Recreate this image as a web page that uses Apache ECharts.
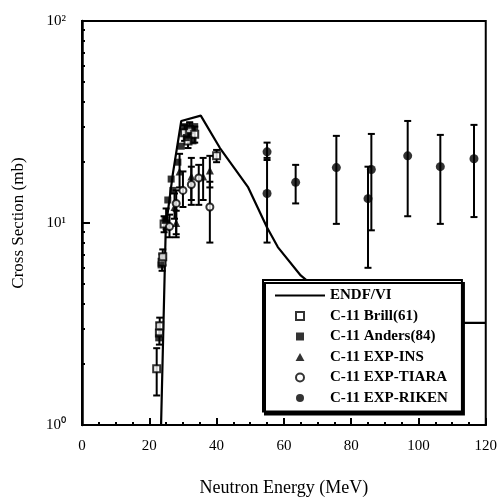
<!DOCTYPE html>
<html><head><meta charset="utf-8">
<script src="https://cdn.jsdelivr.net/npm/echarts@6/dist/echarts.min.js"></script>
<style>html,body{margin:0;padding:0;background:#fff}#c{width:500px;height:502px}</style>
</head><body><div id="c"></div>
<script>
// ---- data ----
const xAxisRange = [0, 120];
const yMajorTicks = [1, 10, 100];
const yTickLabels = ['10\u2070', '10\u00b9', '10\u00b2'];
const yMinorTicks = [2,3,4,5,6,7,8,9,20,30,40,50,60,70,80,90];

const endfX = [23.5, 24.2, 24.9, 27.0, 29.5, 35.3, 41.0, 49.4, 55.0, 58.2, 65.0, 72.0, 80.0, 90.0, 100.0, 120.0];
const endfY = [1.0, 3.1, 9.5, 17.5, 32.0, 34.0, 23.5, 15.0, 9.5, 7.6, 5.5, 4.4, 3.7, 3.3, 3.2, 3.2];

const brillX  = [22.2, 23.0, 23.1, 23.8, 24.0, 24.4, 30.5, 32.0, 33.5, 31.5, 40.0];
const brillY  = [1.9, 2.85, 3.1, 6.4, 6.8, 9.9, 28.0, 29.0, 27.5, 25.5, 21.5];
const brillLo = [1.4, 2.5, 2.8, 5.8, 6.2, 9.0, 25.5, 26.5, 25.0, 23.5, 20.0];
const brillHi = [2.4, 3.2, 3.4, 7.0, 7.4, 10.8, 30.5, 31.5, 30.0, 27.5, 23.0];

const andersX = [22.8, 23.5, 24.7, 25.5, 26.5, 27.0, 28.5, 29.5, 30.5, 32.0, 33.5, 31.0, 33.0];
const andersY = [2.7, 6.2, 10.3, 13.0, 16.5, 14.5, 20.0, 24.0, 30.0, 30.5, 30.0, 26.5, 25.5];

const insX  = [25.0, 27.5, 28.0, 29.0, 32.5, 36.0, 38.0];
const insY  = [10.5, 12.0, 10.0, 18.0, 17.0, 17.0, 18.2];
const insLo = [9.3, 10.5, 8.8, 15.0, 13.0, 13.0, 15.0];
const insHi = [11.8, 14.0, 11.5, 22.0, 21.0, 21.0, 21.5];

const tiaraX  = [26.0, 28.0, 30.0, 32.5, 34.7, 38.0];
const tiaraY  = [9.6, 12.5, 14.5, 15.5, 16.7, 12.0];
const tiaraLo = [8.5, 8.5, 12.0, 12.3, 12.3, 8.0];
const tiaraHi = [11.0, 14.5, 18.0, 19.0, 19.4, 16.0];

const rikenX  = [55.0, 55.0, 63.5, 75.6, 85.0, 86.0, 96.8, 106.5, 116.5];
const rikenY  = [22.5, 14.0, 15.9, 18.8, 13.2, 18.4, 21.5, 19.0, 20.8];
const rikenLo = [20.5, 8.0, 12.5, 9.9, 6.0, 9.2, 10.8, 9.9, 10.7];
const rikenHi = [25.0, 21.0, 19.4, 27.0, 19.0, 27.6, 32.0, 27.3, 30.6];

const names = ['ENDF/VI', 'C-11 Brill(61)', 'C-11 Anders(84)', 'C-11 EXP-INS', 'C-11 EXP-TIARA', 'C-11 EXP-RIKEN'];

// ---- build ----
const zip = (a, b) => a.map((v, i) => [v, b[i]]);
const zip3 = (a, b, c) => a.map((v, i) => [v, b[i], c[i]]);
const FONT = 'Liberation Serif';
const SQUARE = 'path://M0,0L10,0L10,10L0,10Z';
const TRI = 'path://M5,0L10,9L0,9Z';

function errRender(params, api) {
  const x = api.value(0), lo = api.value(1), hi = api.value(2);
  const p1 = api.coord([x, lo]), p2 = api.coord([x, hi]);
  const w = 3.5;
  const st = {stroke: '#000', lineWidth: 2};
  return {type: 'group', children: [
    {type: 'line', shape: {x1: p1[0], y1: p1[1], x2: p2[0], y2: p2[1]}, style: st},
    {type: 'line', shape: {x1: p1[0] - w, y1: p1[1], x2: p1[0] + w, y2: p1[1]}, style: st},
    {type: 'line', shape: {x1: p2[0] - w, y1: p2[1], x2: p2[0] + w, y2: p2[1]}, style: st}
  ]};
}
function errSeries(id, x, lo, hi) {
  return {type: 'custom', id: id, renderItem: errRender, data: zip3(x, lo, hi),
    encode: {x: 0, y: [1, 2]}, silent: true, z: 2};
}

const chart = echarts.init(document.getElementById('c'), null, {renderer: 'canvas'});
chart.setOption({
  animation: false,
  backgroundColor: '#fff',
  grid: {left: 82, right: 12, top: 21, bottom: 72, show: true, borderColor: '#000', borderWidth: 2, backgroundColor: 'transparent'},
  xAxis: {
    type: 'value', min: xAxisRange[0], max: xAxisRange[1], interval: 20,
    name: 'Neutron Energy (MeV)', nameLocation: 'middle', nameGap: 54,
    nameTextStyle: {fontFamily: FONT, fontSize: 18, color: '#000'},
    axisLine: {lineStyle: {color: '#000', width: 2}},
    axisTick: {inside: true, length: 7, lineStyle: {color: '#000', width: 2}},
    minorTick: {show: true, splitNumber: 4, length: 3, lineStyle: {color: '#000', width: 2}},
    splitLine: {show: false},
    axisLabel: {fontFamily: FONT, fontSize: 15, color: '#000', margin: 14}
  },
  yAxis: [{
    type: 'log', logBase: 10, min: 1, max: 100,
    name: 'Cross Section (mb)', nameLocation: 'middle', nameGap: 55,
    nameTextStyle: {fontFamily: FONT, fontSize: 17, color: '#000'},
    axisLine: {lineStyle: {color: '#000', width: 2.5}},
    axisTick: {inside: true, length: 8, lineStyle: {color: '#000', width: 2}, customValues: yMajorTicks},
    splitLine: {show: false},
    axisLabel: {fontFamily: FONT, fontSize: 15, color: '#000', margin: 16,
      customValues: yMajorTicks,
      formatter: v => yTickLabels[yMajorTicks.indexOf(Math.round(v))] || ''}
  }, {
    type: 'log', logBase: 10, min: 1, max: 100, position: 'left',
    axisLine: {show: false},
    axisTick: {inside: true, length: 3, lineStyle: {color: '#000', width: 2}, customValues: yMinorTicks},
    axisLabel: {show: false}, splitLine: {show: false}
  }],
  legend: {
    orient: 'vertical', left: 263, top: 280,
    itemWidth: 50, itemHeight: 8, itemGap: 5.5,
    backgroundColor: '#fff', borderColor: '#000', borderWidth: 2,
    padding: [8, 14, 6, 12],
    shadowColor: '#000', shadowBlur: 0, shadowOffsetX: 2, shadowOffsetY: 3,
    textStyle: {fontFamily: FONT, fontSize: 15, lineHeight: 15, color: '#000', fontWeight: 'bold'},
    data: [
      {name: names[0], icon: 'path://M0,3L50,3L50,5L0,5Z', itemStyle: {color: '#000'}},
      {name: names[1], icon: SQUARE},
      {name: names[2], icon: SQUARE},
      {name: names[3], icon: TRI},
      names[4], names[5]
    ]
  },
  series: [
    {type: 'line', name: names[0], data: zip(endfX, endfY), symbol: 'none', showSymbol: false,
      lineStyle: {color: '#000', width: 2.2}, itemStyle: {color: '#000'}, z: 3},
    errSeries('eb', brillX, brillLo, brillHi),
    errSeries('ei', insX, insLo, insHi),
    errSeries('et', tiaraX, tiaraLo, tiaraHi),
    errSeries('er', rikenX, rikenLo, rikenHi),
    {type: 'scatter', name: names[1], data: zip(brillX, brillY), symbol: 'rect', symbolSize: 7,
      itemStyle: {color: '#fff', borderColor: '#000', borderWidth: 2}, z: 4},
    {type: 'scatter', name: names[2], data: zip(andersX, andersY), symbol: 'rect', symbolSize: 7,
      itemStyle: {color: '#000'}, z: 4},
    {type: 'scatter', name: names[3], data: zip(insX, insY), symbol: 'triangle', symbolSize: 8,
      itemStyle: {color: '#000'}, z: 4},
    {type: 'scatter', name: names[4], data: zip(tiaraX, tiaraY), symbol: 'circle', symbolSize: 7,
      itemStyle: {color: '#fff', borderColor: '#000', borderWidth: 2}, z: 4},
    {type: 'scatter', name: names[5], data: zip(rikenX, rikenY), symbol: 'circle', symbolSize: 9,
      itemStyle: {color: '#000'}, z: 4}
  ]
});
</script></body></html>
